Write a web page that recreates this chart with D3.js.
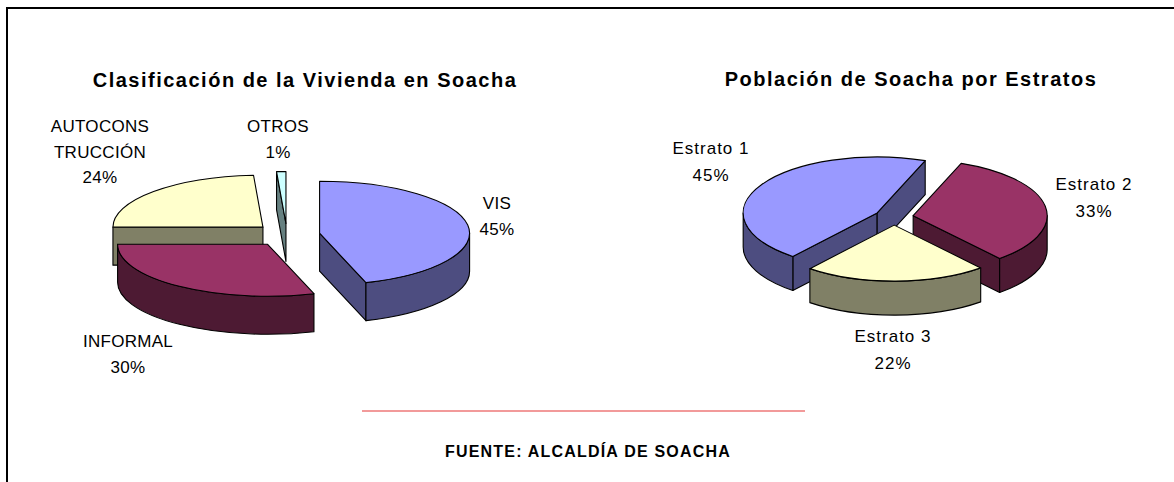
<!DOCTYPE html>
<html>
<head>
<meta charset="utf-8">
<script src="https://cdn.jsdelivr.net/npm/d3@7"></script>
<style>
body { margin: 0; background: #fff; }
text { font-family: "Liberation Sans", Arial, sans-serif; fill: #000; }
</style>
</head>
<body>
<div id="chart"></div>
<script>
// datos
var viviendaCats = ["VIS", "INFORMAL", "AUTOCONSTRUCCIÓN", "OTROS"];
var viviendaVals = [45, 30, 24, 1];
var estratoCats = ["Estrato 1", "Estrato 2", "Estrato 3"];
var estratoVals = [45, 33, 22];

var viviendaColors = ["#9999ff", "#993366", "#ffffcc", "#ccffff"];
var estratoColors = ["#9999ff", "#993366", "#ffffcc"];

var W = 1174, H = 482;
var svg = d3.select("#chart").append("svg")
    .attr("width", W)
    .attr("height", H);

// marco
svg.append("rect")
    .attr("x", 7).attr("y", 8)
    .attr("width", W).attr("height", H)
    .attr("fill", "none")
    .attr("stroke", "#000")
    .attr("stroke-width", 2);

function half(c){
    var r = d3.rgb(c);
    return d3.rgb(Math.round(r.r / 2), Math.round(r.g / 2), Math.round(r.b / 2)).toString();
}

// nombres largos se parten en trozos de 8 (AUTOCONS / TRUCCIÓN)
function splitName(s){
    if(s.length <= 9) return [s];
    var out = [];
    for(var i = 0; i < s.length; i += 8) out.push(s.substr(i, 8));
    return out;
}

function pie3d(opt){
    var rx = opt.rx, ry = opt.ry, depth = opt.depth;
    var arcs = d3.pie().sort(null)
        .startAngle(opt.start)
        .endAngle(opt.start + 2 * Math.PI)(opt.vals);

    arcs.forEach(function(d, i){
        var mid = (d.startAngle + d.endAngle) / 2;
        d.vx = opt.cx + opt.explode * rx * Math.sin(mid);
        d.vy = opt.cy - opt.explode * ry * Math.cos(mid);
        d.order = -Math.cos(mid);
        d.i = i;
    });

    var g = svg.append("g");
    var sorted = arcs.slice().sort(function(a, b){ return a.order - b.order; });

    sorted.forEach(function(d){
        var col = opt.colors[d.i], side = half(col);
        var sg = g.append("g")
            .attr("stroke", "#000")
            .attr("stroke-width", 1.1)
            .attr("stroke-linejoin", "round");
        function pt(a, z){
            return [d.vx + rx * Math.sin(a), d.vy - ry * Math.cos(a) + (z || 0)];
        }

        // paredes radiales
        var walls = [];
        if(Math.sin(d.startAngle) < -1e-6) walls.push(d.startAngle);
        if(Math.sin(d.endAngle) > 1e-6) walls.push(d.endAngle);
        walls.forEach(function(a){
            var p = pt(a);
            var path = d3.path();
            path.moveTo(d.vx, d.vy);
            path.lineTo(p[0], p[1]);
            path.lineTo(p[0], p[1] + depth);
            path.lineTo(d.vx, d.vy + depth);
            path.closePath();
            sg.append("path").attr("d", path.toString()).attr("fill", side);
        });

        // pared exterior (solo la parte frontal)
        [0, 1].forEach(function(k){
            var lo = Math.max(d.startAngle, Math.PI / 2 + 2 * Math.PI * k);
            var hi = Math.min(d.endAngle, 3 * Math.PI / 2 + 2 * Math.PI * k);
            if(hi - lo < 1e-4) return;
            var p0 = pt(lo), p1 = pt(hi);
            var dd = "M" + p0[0] + "," + p0[1] +
                "A" + rx + "," + ry + " 0 0 1 " + p1[0] + "," + p1[1] +
                "L" + p1[0] + "," + (p1[1] + depth) +
                "A" + rx + "," + ry + " 0 0 0 " + p0[0] + "," + (p0[1] + depth) + "Z";
            sg.append("path").attr("d", dd).attr("fill", side);
        });

        // cara superior
        var a0 = pt(d.startAngle), a1 = pt(d.endAngle);
        var large = (d.endAngle - d.startAngle) > Math.PI ? 1 : 0;
        var top = "M" + d.vx + "," + d.vy +
            "L" + a0[0] + "," + a0[1] +
            "A" + rx + "," + ry + " 0 " + large + " 1 " + a1[0] + "," + a1[1] + "Z";
        sg.append("path").attr("d", top).attr("fill", col);
    });

    // titulo
    svg.append("text")
        .attr("x", opt.titleX).attr("y", opt.titleY)
        .attr("text-anchor", "middle")
        .attr("font-size", 20)
        .attr("font-weight", "bold")
        .attr("letter-spacing", 1.5)
        .text(opt.title);

    // etiquetas
    opt.cats.forEach(function(c, i){
        var lines = splitName(c).concat([opt.vals[i] + "%"]);
        var lp = opt.labelPos[i];
        var t = svg.append("text")
            .attr("text-anchor", "middle")
            .attr("font-size", 17)
            .attr("letter-spacing", opt.labelSpacing);
        lines.forEach(function(s, j){
            t.append("tspan")
                .attr("x", lp[0])
                .attr("y", lp[1] + j * opt.lineH)
                .text(s);
        });
    });
}

pie3d({
    cats: viviendaCats, vals: viviendaVals, colors: viviendaColors,
    cx: 287, cy: 235, rx: 150, ry: 52, depth: 38, explode: 0.22, start: 0,
    title: "Clasificación de la Vivienda en Soacha", titleX: 305, titleY: 87,
    labelPos: [[497, 209], [128, 347], [100, 132], [278, 132]],
    lineH: 25.5, labelSpacing: 0.3
});

pie3d({
    cats: estratoCats, vals: estratoVals, colors: estratoColors,
    cx: 894, cy: 217, rx: 134, ry: 56, depth: 34, explode: 0.145, start: 219 * Math.PI / 180,
    title: "Población de Soacha por Estratos", titleX: 911, titleY: 86,
    labelPos: [[711, 154], [1094, 190], [893, 342]],
    lineH: 27, labelSpacing: 1
});

// linea y fuente
svg.append("line")
    .attr("x1", 362).attr("x2", 805)
    .attr("y1", 411).attr("y2", 411)
    .attr("stroke", "#f29a9a")
    .attr("stroke-width", 2);

svg.append("text")
    .attr("x", 588).attr("y", 457)
    .attr("text-anchor", "middle")
    .attr("font-size", 16)
    .attr("font-weight", "bold")
    .attr("letter-spacing", 1.2)
    .text("FUENTE: ALCALDÍA DE SOACHA");
</script>
</body>
</html>
